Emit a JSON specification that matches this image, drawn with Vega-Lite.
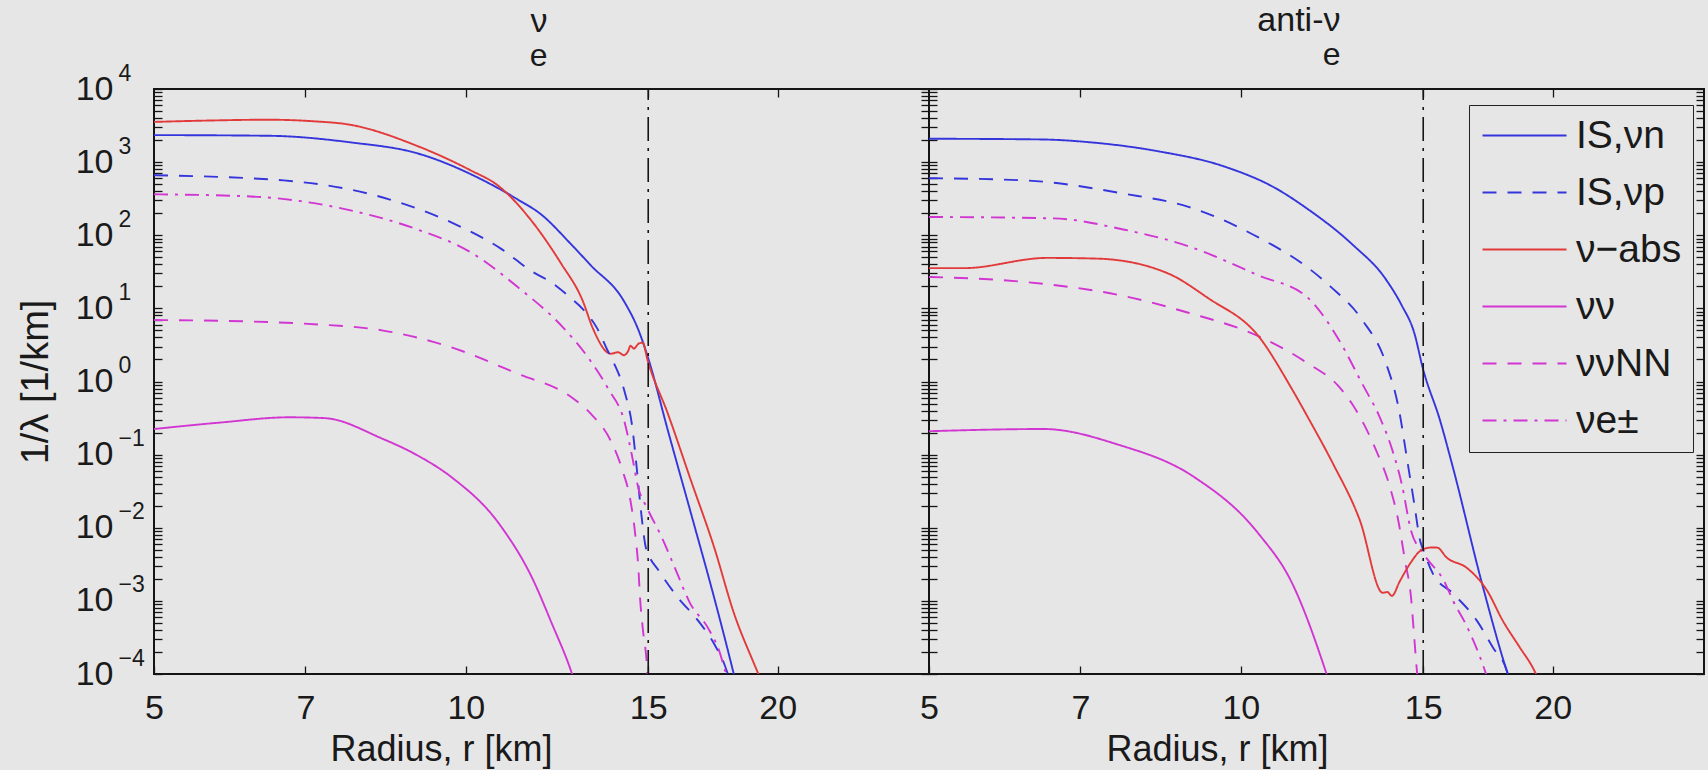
{
  "$schema": "https://vega.github.io/schema/vega-lite/v6.json",
  "autosize": {"type": "none"},
  "padding": {"left": 154, "top": 89, "right": 1554, "bottom": 681},
  "background": "#e6e6e6",
  "config": {
    "font": "Liberation Sans",
    "view": {"stroke": "#151515", "strokeWidth": 2},
    "axis": {
      "grid": false,
      "domain": false,
      "ticks": true,
      "tickSize": -8,
      "tickColor": "#151515",
      "tickWidth": 1.3,
      "labelFont": "Liberation Sans",
      "labelColor": "#1a1a1a",
      "titleFont": "Liberation Sans",
      "titleFontWeight": "normal",
      "titleColor": "#1a1a1a",
      "labelOverlap": false,
      "labelFlush": false
    },
    "title": {"font": "Liberation Sans", "fontWeight": "normal", "color": "#1a1a1a", "subtitleFont": "Liberation Sans", "subtitleColor": "#1a1a1a"}
  },
  "datasets": {
    "curves": [
      {"p": "a", "s": "IS,νn", "r": 5, "v": 2344},
      {"p": "a", "s": "IS,νn", "r": 6.47, "v": 2291},
      {"p": "a", "s": "IS,νn", "r": 7.74, "v": 1862},
      {"p": "a", "s": "IS,νn", "r": 8.98, "v": 1318},
      {"p": "a", "s": "IS,νn", "r": 10.4, "v": 562},
      {"p": "a", "s": "IS,νn", "r": 11.22, "v": 309},
      {"p": "a", "s": "IS,νn", "r": 11.81, "v": 195},
      {"p": "a", "s": "IS,νn", "r": 12.63, "v": 75.9},
      {"p": "a", "s": "IS,νn", "r": 13.2, "v": 38.9},
      {"p": "a", "s": "IS,νn", "r": 14.21, "v": 12.6},
      {"p": "a", "s": "IS,νn", "r": 14.7, "v": 4.79},
      {"p": "a", "s": "IS,νn", "r": 15.02, "v": 1.95},
      {"p": "a", "s": "IS,νn", "r": 15.67, "v": 0.214},
      {"p": "a", "s": "IS,νn", "r": 16.5, "v": 0.0155},
      {"p": "a", "s": "IS,νn", "r": 17.37, "v": 0.0011},
      {"p": "a", "s": "IS,νn", "r": 18.04, "v": 0.000138},
      {"p": "a", "s": "IS,νn", "r": 18.2, "v": 0.000083},

      {"p": "a", "s": "ν−abs", "r": 5, "v": 3548},
      {"p": "a", "s": "ν−abs", "r": 5.7, "v": 3715},
      {"p": "a", "s": "ν−abs", "r": 6.43, "v": 3802},
      {"p": "a", "s": "ν−abs", "r": 7.1, "v": 3631},
      {"p": "a", "s": "ν−abs", "r": 7.74, "v": 3236},
      {"p": "a", "s": "ν−abs", "r": 8.98, "v": 1660},
      {"p": "a", "s": "ν−abs", "r": 10.1, "v": 776},
      {"p": "a", "s": "ν−abs", "r": 10.74, "v": 479},
      {"p": "a", "s": "ν−abs", "r": 11.6, "v": 151},
      {"p": "a", "s": "ν−abs", "r": 12.35, "v": 41.7},
      {"p": "a", "s": "ν−abs", "r": 12.97, "v": 12.6},
      {"p": "a", "s": "ν−abs", "r": 13.26, "v": 5.37},
      {"p": "a", "s": "ν−abs", "r": 13.8, "v": 2.4},
      {"p": "a", "s": "ν−abs", "r": 14.03, "v": 2.51},
      {"p": "a", "s": "ν−abs", "r": 14.21, "v": 2.29},
      {"p": "a", "s": "ν−abs", "r": 14.35, "v": 2.63},
      {"p": "a", "s": "ν−abs", "r": 14.42, "v": 3.09},
      {"p": "a", "s": "ν−abs", "r": 14.53, "v": 2.82},
      {"p": "a", "s": "ν−abs", "r": 14.69, "v": 3.31},
      {"p": "a", "s": "ν−abs", "r": 14.82, "v": 3.39},
      {"p": "a", "s": "ν−abs", "r": 14.98, "v": 1.95},
      {"p": "a", "s": "ν−abs", "r": 15.67, "v": 0.363},
      {"p": "a", "s": "ν−abs", "r": 16.5, "v": 0.0437},
      {"p": "a", "s": "ν−abs", "r": 17.37, "v": 0.00537},
      {"p": "a", "s": "ν−abs", "r": 18.16, "v": 0.000661},
      {"p": "a", "s": "ν−abs", "r": 18.98, "v": 0.000138},
      {"p": "a", "s": "ν−abs", "r": 19.3, "v": 0.000079},

      {"p": "a", "s": "IS,νp", "r": 5, "v": 661},
      {"p": "a", "s": "IS,νp", "r": 6.67, "v": 562},
      {"p": "a", "s": "IS,νp", "r": 8.3, "v": 331},
      {"p": "a", "s": "IS,νp", "r": 9.67, "v": 151},
      {"p": "a", "s": "IS,νp", "r": 10.8, "v": 66.1},
      {"p": "a", "s": "IS,νp", "r": 11.6, "v": 31.6},
      {"p": "a", "s": "IS,νp", "r": 12.08, "v": 22.9},
      {"p": "a", "s": "IS,νp", "r": 12.63, "v": 13.8},
      {"p": "a", "s": "IS,νp", "r": 12.97, "v": 9.77},
      {"p": "a", "s": "IS,νp", "r": 13.4, "v": 5.25},
      {"p": "a", "s": "IS,νp", "r": 13.71, "v": 2.63},
      {"p": "a", "s": "IS,νp", "r": 13.9, "v": 1.78},
      {"p": "a", "s": "IS,νp", "r": 14.24, "v": 0.708},
      {"p": "a", "s": "IS,νp", "r": 14.48, "v": 0.234},
      {"p": "a", "s": "IS,νp", "r": 14.63, "v": 0.0603},
      {"p": "a", "s": "IS,νp", "r": 14.76, "v": 0.017},
      {"p": "a", "s": "IS,νp", "r": 14.92, "v": 0.00537},
      {"p": "a", "s": "IS,νp", "r": 15.0, "v": 0.00437},
      {"p": "a", "s": "IS,νp", "r": 15.36, "v": 0.00257},
      {"p": "a", "s": "IS,νp", "r": 16.03, "v": 0.0011},
      {"p": "a", "s": "IS,νp", "r": 16.76, "v": 0.000537},
      {"p": "a", "s": "IS,νp", "r": 17.37, "v": 0.000257},
      {"p": "a", "s": "IS,νp", "r": 17.76, "v": 0.000138},
      {"p": "a", "s": "IS,νp", "r": 17.95, "v": 0.000089},

      {"p": "a", "s": "νe±", "r": 5, "v": 363},
      {"p": "a", "s": "νe±", "r": 6.2, "v": 339},
      {"p": "a", "s": "νe±", "r": 7.74, "v": 219},
      {"p": "a", "s": "νe±", "r": 8.98, "v": 120},
      {"p": "a", "s": "νe±", "r": 10.1, "v": 58.9},
      {"p": "a", "s": "νe±", "r": 11.2, "v": 20.0},
      {"p": "a", "s": "νe±", "r": 12.43, "v": 5.37},
      {"p": "a", "s": "νe±", "r": 13.12, "v": 2.14},
      {"p": "a", "s": "νe±", "r": 13.71, "v": 0.813},
      {"p": "a", "s": "νe±", "r": 14.24, "v": 0.269},
      {"p": "a", "s": "νe±", "r": 14.48, "v": 0.0912},
      {"p": "a", "s": "νe±", "r": 14.67, "v": 0.0355},
      {"p": "a", "s": "νe±", "r": 14.95, "v": 0.0191},
      {"p": "a", "s": "νe±", "r": 15.47, "v": 0.00724},
      {"p": "a", "s": "νe±", "r": 15.96, "v": 0.00257},
      {"p": "a", "s": "νe±", "r": 16.46, "v": 0.000933},
      {"p": "a", "s": "νe±", "r": 17.13, "v": 0.000427},
      {"p": "a", "s": "νe±", "r": 17.56, "v": 0.000209},
      {"p": "a", "s": "νe±", "r": 17.84, "v": 0.0001},
      {"p": "a", "s": "νe±", "r": 17.95, "v": 0.000079},

      {"p": "a", "s": "ννNN", "r": 5, "v": 6.92},
      {"p": "a", "s": "ννNN", "r": 6.2, "v": 6.61},
      {"p": "a", "s": "ννNN", "r": 7.2, "v": 6.03},
      {"p": "a", "s": "ννNN", "r": 8.3, "v": 5.01},
      {"p": "a", "s": "ννNN", "r": 9.67, "v": 2.95},
      {"p": "a", "s": "ννNN", "r": 11.2, "v": 1.29},
      {"p": "a", "s": "ννNN", "r": 12.63, "v": 0.617},
      {"p": "a", "s": "ννNN", "r": 13.2, "v": 0.363},
      {"p": "a", "s": "ννNN", "r": 13.8, "v": 0.155},
      {"p": "a", "s": "ννNN", "r": 14.17, "v": 0.0603},
      {"p": "a", "s": "ννNN", "r": 14.42, "v": 0.0234},
      {"p": "a", "s": "ννNN", "r": 14.57, "v": 0.00832},
      {"p": "a", "s": "ννNN", "r": 14.67, "v": 0.00302},
      {"p": "a", "s": "ννNN", "r": 14.73, "v": 0.0011},
      {"p": "a", "s": "ννNN", "r": 14.82, "v": 0.000417},
      {"p": "a", "s": "ννNN", "r": 14.95, "v": 0.000141},
      {"p": "a", "s": "ννNN", "r": 15.0, "v": 0.000063},

      {"p": "a", "s": "νν", "r": 5, "v": 0.224},
      {"p": "a", "s": "νν", "r": 5.8, "v": 0.275},
      {"p": "a", "s": "νν", "r": 6.75, "v": 0.324},
      {"p": "a", "s": "νν", "r": 7.3, "v": 0.316},
      {"p": "a", "s": "νν", "r": 8.3, "v": 0.166},
      {"p": "a", "s": "νν", "r": 8.98, "v": 0.0977},
      {"p": "a", "s": "νν", "r": 9.67, "v": 0.0501},
      {"p": "a", "s": "νν", "r": 10.8, "v": 0.0107},
      {"p": "a", "s": "νν", "r": 11.6, "v": 0.002},
      {"p": "a", "s": "νν", "r": 12.1, "v": 0.0005},
      {"p": "a", "s": "νν", "r": 12.63, "v": 0.000112},
      {"p": "a", "s": "νν", "r": 12.7, "v": 0.000089},

      {"p": "b", "s": "IS,νn", "r": 5, "v": 2089},
      {"p": "b", "s": "IS,νn", "r": 6.42, "v": 2042},
      {"p": "b", "s": "IS,νn", "r": 7.17, "v": 1862},
      {"p": "b", "s": "IS,νn", "r": 8.31, "v": 1413},
      {"p": "b", "s": "IS,νn", "r": 9.64, "v": 871},
      {"p": "b", "s": "IS,νn", "r": 10.78, "v": 447},
      {"p": "b", "s": "IS,νn", "r": 11.6, "v": 229},
      {"p": "b", "s": "IS,νn", "r": 12.8, "v": 75.9},
      {"p": "b", "s": "IS,νn", "r": 13.8, "v": 25.1},
      {"p": "b", "s": "IS,νn", "r": 14.3, "v": 11.0},
      {"p": "b", "s": "IS,νn", "r": 14.7, "v": 4.68},
      {"p": "b", "s": "IS,νn", "r": 15.0, "v": 1.45},
      {"p": "b", "s": "IS,νn", "r": 15.57, "v": 0.295},
      {"p": "b", "s": "IS,νn", "r": 16.0, "v": 0.0724},
      {"p": "b", "s": "IS,νn", "r": 17.1, "v": 0.0017},
      {"p": "b", "s": "IS,νn", "r": 18.1, "v": 0.0001},
      {"p": "b", "s": "IS,νn", "r": 18.2, "v": 0.000079},

      {"p": "b", "s": "IS,νp", "r": 5, "v": 603},
      {"p": "b", "s": "IS,νp", "r": 6.2, "v": 562},
      {"p": "b", "s": "IS,νp", "r": 7.7, "v": 372},
      {"p": "b", "s": "IS,νp", "r": 8.9, "v": 245},
      {"p": "b", "s": "IS,νp", "r": 10.4, "v": 93.3},
      {"p": "b", "s": "IS,νp", "r": 11.6, "v": 36.3},
      {"p": "b", "s": "IS,νp", "r": 12.2, "v": 20.0},
      {"p": "b", "s": "IS,νp", "r": 13.1, "v": 6.92},
      {"p": "b", "s": "IS,νp", "r": 13.8, "v": 1.82},
      {"p": "b", "s": "IS,νp", "r": 14.2, "v": 0.437},
      {"p": "b", "s": "IS,νp", "r": 14.5, "v": 0.0724},
      {"p": "b", "s": "IS,νp", "r": 14.7, "v": 0.0219},
      {"p": "b", "s": "IS,νp", "r": 14.9, "v": 0.00661},
      {"p": "b", "s": "IS,νp", "r": 15.0, "v": 0.00501},
      {"p": "b", "s": "IS,νp", "r": 15.33, "v": 0.00234},
      {"p": "b", "s": "IS,νp", "r": 16.03, "v": 0.00126},
      {"p": "b", "s": "IS,νp", "r": 16.9, "v": 0.000537},
      {"p": "b", "s": "IS,νp", "r": 17.52, "v": 0.000229},
      {"p": "b", "s": "IS,νp", "r": 18.07, "v": 0.00011},
      {"p": "b", "s": "IS,νp", "r": 18.15, "v": 0.000089},

      {"p": "b", "s": "νe±", "r": 5, "v": 178},
      {"p": "b", "s": "νe±", "r": 6.6, "v": 170},
      {"p": "b", "s": "νe±", "r": 7.7, "v": 120},
      {"p": "b", "s": "νe±", "r": 8.9, "v": 70.8},
      {"p": "b", "s": "νe±", "r": 10.4, "v": 28.2},
      {"p": "b", "s": "νe±", "r": 11.6, "v": 14.1},
      {"p": "b", "s": "νe±", "r": 12.4, "v": 3.98},
      {"p": "b", "s": "νe±", "r": 13.12, "v": 0.891},
      {"p": "b", "s": "νe±", "r": 13.6, "v": 0.339},
      {"p": "b", "s": "νe±", "r": 14.0, "v": 0.117},
      {"p": "b", "s": "νe±", "r": 14.3, "v": 0.0398},
      {"p": "b", "s": "νe±", "r": 14.6, "v": 0.00912},
      {"p": "b", "s": "νe±", "r": 15.0, "v": 0.00447},
      {"p": "b", "s": "νe±", "r": 15.74, "v": 0.00178},
      {"p": "b", "s": "νe±", "r": 16.03, "v": 0.001},
      {"p": "b", "s": "νe±", "r": 16.53, "v": 0.000447},
      {"p": "b", "s": "νe±", "r": 17.0, "v": 0.000178},
      {"p": "b", "s": "νe±", "r": 17.3, "v": 0.000089},

      {"p": "b", "s": "ννNN", "r": 5, "v": 26.9},
      {"p": "b", "s": "ννNN", "r": 6.2, "v": 22.9},
      {"p": "b", "s": "ννNN", "r": 7.7, "v": 14.8},
      {"p": "b", "s": "ννNN", "r": 8.9, "v": 8.71},
      {"p": "b", "s": "ννNN", "r": 10.4, "v": 4.17},
      {"p": "b", "s": "ννNN", "r": 11.6, "v": 1.78},
      {"p": "b", "s": "ννNN", "r": 12.4, "v": 0.89},
      {"p": "b", "s": "ννNN", "r": 12.8, "v": 0.5},
      {"p": "b", "s": "ννNN", "r": 13.5, "v": 0.117},
      {"p": "b", "s": "ννNN", "r": 13.9, "v": 0.0398},
      {"p": "b", "s": "ννNN", "r": 14.2, "v": 0.012},
      {"p": "b", "s": "ννNN", "r": 14.4, "v": 0.00363},
      {"p": "b", "s": "ννNN", "r": 14.6, "v": 0.0011},
      {"p": "b", "s": "ννNN", "r": 14.7, "v": 0.000331},
      {"p": "b", "s": "ννNN", "r": 14.8, "v": 0.0001},
      {"p": "b", "s": "ννNN", "r": 14.85, "v": 0.000063},

      {"p": "b", "s": "νν", "r": 5, "v": 0.209},
      {"p": "b", "s": "νν", "r": 6.45, "v": 0.224},
      {"p": "b", "s": "νν", "r": 7.6, "v": 0.138},
      {"p": "b", "s": "νν", "r": 9.0, "v": 0.0501},
      {"p": "b", "s": "νν", "r": 10.4, "v": 0.00832},
      {"p": "b", "s": "νν", "r": 11.2, "v": 0.00178},
      {"p": "b", "s": "νν", "r": 12.1, "v": 0.0001},
      {"p": "b", "s": "νν", "r": 12.2, "v": 0.00007},

      {"p": "b", "s": "ν−abs", "r": 5, "v": 35.5},
      {"p": "b", "s": "ν−abs", "r": 5.4, "v": 35.5},
      {"p": "b", "s": "ν−abs", "r": 6.5, "v": 49.0},
      {"p": "b", "s": "ν−abs", "r": 7.27, "v": 47.9},
      {"p": "b", "s": "ν−abs", "r": 8.5, "v": 30.2},
      {"p": "b", "s": "ν−abs", "r": 9.3, "v": 13.8},
      {"p": "b", "s": "ν−abs", "r": 10.4, "v": 4.17},
      {"p": "b", "s": "ν−abs", "r": 11.2, "v": 0.794},
      {"p": "b", "s": "ν−abs", "r": 11.65, "v": 0.295},
      {"p": "b", "s": "ν−abs", "r": 12.27, "v": 0.0759},
      {"p": "b", "s": "ν−abs", "r": 13.03, "v": 0.0126},
      {"p": "b", "s": "ν−abs", "r": 13.71, "v": 0.00129},
      {"p": "b", "s": "ν−abs", "r": 13.85, "v": 0.00132},
      {"p": "b", "s": "ν−abs", "r": 13.99, "v": 0.00117},
      {"p": "b", "s": "ν−abs", "r": 14.24, "v": 0.00186},
      {"p": "b", "s": "ν−abs", "r": 14.57, "v": 0.00324},
      {"p": "b", "s": "ν−abs", "r": 14.89, "v": 0.00479},
      {"p": "b", "s": "ν−abs", "r": 15.1, "v": 0.00525},
      {"p": "b", "s": "ν−abs", "r": 15.29, "v": 0.00537},
      {"p": "b", "s": "ν−abs", "r": 15.46, "v": 0.00537},
      {"p": "b", "s": "ν−abs", "r": 15.81, "v": 0.00389},
      {"p": "b", "s": "ν−abs", "r": 16.53, "v": 0.00282},
      {"p": "b", "s": "ν−abs", "r": 17.29, "v": 0.00138},
      {"p": "b", "s": "ν−abs", "r": 17.9, "v": 0.000537},
      {"p": "b", "s": "ν−abs", "r": 18.6, "v": 0.000229},
      {"p": "b", "s": "ν−abs", "r": 19.15, "v": 0.00012},
      {"p": "b", "s": "ν−abs", "r": 19.35, "v": 0.000089}
    ],
    "sphere": [
      {"r": 15, "lo": 0.0001, "hi": 10000}
    ]
  },
  "bounds": "flush",
  "spacing": 0,
  "hconcat": [
    {
      "width": 775,
      "height": 585,
      "title": {"text": "ν", "subtitle": "e", "fontSize": 34, "subtitleFontSize": 32, "subtitlePadding": 0, "anchor": "middle", "align": "right", "dx": 6, "baseline": "alphabetic", "offset": 15, "dy": 52},
      "resolve": {"axis": {"x": "independent", "y": "independent"}},
      "layer": [
        {
          "data": {"name": "curves"},
          "transform": [{"filter": "datum.p == 'a'"}],
          "mark": {"type": "line", "strokeWidth": 1.9, "clip": true, "interpolate": "monotone"},
          "encoding": {
            "x": {
              "field": "r", "type": "quantitative",
              "scale": {"type": "log", "domain": [5, 28]},
              "axis": {"orient": "bottom", "values": [5, 7, 10, 15, 20], "labelFontSize": 34, "labelPadding": 25, "title": "Radius, r [km]", "titleFontSize": 36, "titleX": 287, "titleY": 86, "titleBaseline": "alphabetic"}
            },
            "y": {
              "field": "v", "type": "quantitative",
              "scale": {"type": "log", "domain": [0.0001, 10000]},
              "axis": {
                "orient": "left",
                "values": [0.0001, 0.0002, 0.0003, 0.0004, 0.0005, 0.0006, 0.0007, 0.0008, 0.0009, 0.001, 0.002, 0.003, 0.004, 0.005, 0.006, 0.007, 0.008, 0.009, 0.01, 0.02, 0.03, 0.04, 0.05, 0.06, 0.07, 0.08, 0.09, 0.1, 0.2, 0.3, 0.4, 0.5, 0.6, 0.7, 0.8, 0.9, 1, 2, 3, 4, 5, 6, 7, 8, 9, 10, 20, 30, 40, 50, 60, 70, 80, 90, 100, 200, 300, 400, 500, 600, 700, 800, 900, 1000, 2000, 3000, 4000, 5000, 6000, 7000, 8000, 9000, 10000],
                "labelExpr": "(datum.value == 10000 || datum.value == 1000 || datum.value == 100 || datum.value == 10 || datum.value == 1 || datum.value == 0.1 || datum.value == 0.01 || datum.value == 0.001 || datum.value == 0.0001) ? '10' : ''",
                "labelFontSize": 34,
                "labelPadding": 49,
                "title": "1/λ [1/km]",
                "titleFontSize": 38,
                "titleX": -107,
                "titleBaseline": "alphabetic"
              }
            },
            "color": {
              "field": "s", "type": "nominal",
              "scale": {"domain": ["IS,νn", "IS,νp", "ν−abs", "νν", "ννNN", "νe±"], "range": ["#3535dc", "#3535dc", "#e23a3a", "#d236d2", "#d236d2", "#d236d2"]},
              "legend": {"title": null, "orient": "none", "legendX": 1315, "legendY": 16, "symbolType": "M-3,0H3", "symbolSize": 784, "symbolStrokeWidth": 1.9, "symbolOffset": 25, "labelOffset": 32, "labelFontSize": 39, "labelFont": "Liberation Sans", "labelColor": "#1a1a1a", "labelLimit": 300, "padding": 11, "rowPadding": 17, "strokeColor": "#222222", "fillColor": "#e6e6e6"}
            },
            "strokeDash": {
              "field": "s", "type": "nominal",
              "scale": {"domain": ["IS,νn", "IS,νp", "ν−abs", "νν", "ννNN", "νe±"], "range": [[1, 0], [14, 11], [1, 0], [1, 0], [14, 11], [14, 7, 3, 7]]},
              "legend": {"title": null, "orient": "none", "legendX": 1315, "legendY": 16, "symbolType": "M-3,0H3", "symbolSize": 784, "symbolStrokeWidth": 1.9, "symbolOffset": 25, "labelOffset": 32, "labelFontSize": 39, "labelFont": "Liberation Sans", "labelColor": "#1a1a1a", "labelLimit": 300, "padding": 11, "rowPadding": 17, "strokeColor": "#222222", "fillColor": "#e6e6e6"}
            }
          }
        },
        {
          "data": {"name": "sphere"},
          "mark": {"type": "rule", "color": "#151515", "strokeWidth": 1.6, "strokeDash": [24, 7, 3, 7]},
          "encoding": {
            "x": {"field": "r", "type": "quantitative", "scale": {"type": "log", "domain": [5, 28]}, "axis": {"orient": "top", "values": [7, 10, 15, 20], "labels": false, "title": null}},
            "y": {
              "field": "lo", "type": "quantitative", "scale": {"type": "log", "domain": [0.0001, 10000]},
              "axis": {"orient": "right", "labels": false, "title": null, "values": [0.0001, 0.0002, 0.0003, 0.0004, 0.0005, 0.0006, 0.0007, 0.0008, 0.0009, 0.001, 0.002, 0.003, 0.004, 0.005, 0.006, 0.007, 0.008, 0.009, 0.01, 0.02, 0.03, 0.04, 0.05, 0.06, 0.07, 0.08, 0.09, 0.1, 0.2, 0.3, 0.4, 0.5, 0.6, 0.7, 0.8, 0.9, 1, 2, 3, 4, 5, 6, 7, 8, 9, 10, 20, 30, 40, 50, 60, 70, 80, 90, 100, 200, 300, 400, 500, 600, 700, 800, 900, 1000, 2000, 3000, 4000, 5000, 6000, 7000, 8000, 9000, 10000]}
            },
            "y2": {"field": "hi"}
          }
        },
        {
          "data": {"name": "sphere"},
          "mark": {"type": "rule", "opacity": 0},
          "encoding": {
            "x": {"field": "r", "type": "quantitative", "scale": {"type": "log", "domain": [5, 28]}, "axis": null},
            "y": {
              "field": "lo", "type": "quantitative", "scale": {"type": "log", "domain": [0.0001, 10000]},
              "axis": {
                "orient": "left",
                "values": [0.0001, 0.001, 0.01, 0.1, 1, 10, 100, 1000, 10000],
                "ticks": false,
                "labelExpr": "datum.value == 10000 ? '4' : datum.value == 1000 ? '3' : datum.value == 100 ? '2' : datum.value == 10 ? '1' : datum.value == 1 ? '0' : datum.value == 0.1 ? '−1' : datum.value == 0.01 ? '−2' : datum.value == 0.001 ? '−3' : '−4'",
                "labelAlign": "left",
                "labelPadding": 36,
                "labelOffset": -16,
                "labelFontSize": 23,
                "title": null
              }
            },
            "y2": {"field": "hi"}
          }
        }
      ]
    },
    {
      "width": 775,
      "height": 585,
      "title": {"text": "anti-ν", "subtitle": "e", "fontSize": 34, "subtitleFontSize": 32, "subtitlePadding": 0, "anchor": "middle", "align": "right", "dx": 24, "baseline": "alphabetic", "offset": 15, "dy": 25},
      "resolve": {"axis": {"x": "independent", "y": "independent"}},
      "layer": [
        {
          "data": {"name": "curves"},
          "transform": [{"filter": "datum.p == 'b'"}],
          "mark": {"type": "line", "strokeWidth": 1.9, "clip": true, "interpolate": "monotone"},
          "encoding": {
            "x": {
              "field": "r", "type": "quantitative",
              "scale": {"type": "log", "domain": [5, 28]},
              "axis": {"orient": "bottom", "values": [5, 7, 10, 15, 20], "labelFontSize": 34, "labelPadding": 25, "title": "Radius, r [km]", "titleFontSize": 36, "titleX": 288, "titleY": 86, "titleBaseline": "alphabetic"}
            },
            "y": {
              "field": "v", "type": "quantitative",
              "scale": {"type": "log", "domain": [0.0001, 10000]},
              "axis": {"orient": "left", "labels": false, "title": null, "values": [0.0001, 0.0002, 0.0003, 0.0004, 0.0005, 0.0006, 0.0007, 0.0008, 0.0009, 0.001, 0.002, 0.003, 0.004, 0.005, 0.006, 0.007, 0.008, 0.009, 0.01, 0.02, 0.03, 0.04, 0.05, 0.06, 0.07, 0.08, 0.09, 0.1, 0.2, 0.3, 0.4, 0.5, 0.6, 0.7, 0.8, 0.9, 1, 2, 3, 4, 5, 6, 7, 8, 9, 10, 20, 30, 40, 50, 60, 70, 80, 90, 100, 200, 300, 400, 500, 600, 700, 800, 900, 1000, 2000, 3000, 4000, 5000, 6000, 7000, 8000, 9000, 10000]}
            },
            "color": {
              "field": "s", "type": "nominal",
              "scale": {"domain": ["IS,νn", "IS,νp", "ν−abs", "νν", "ννNN", "νe±"], "range": ["#3535dc", "#3535dc", "#e23a3a", "#d236d2", "#d236d2", "#d236d2"]},
              "legend": {"title": null, "orient": "none", "legendX": 1315, "legendY": 16, "symbolType": "M-3,0H3", "symbolSize": 784, "symbolStrokeWidth": 1.9, "symbolOffset": 25, "labelOffset": 32, "labelFontSize": 39, "labelFont": "Liberation Sans", "labelColor": "#1a1a1a", "labelLimit": 300, "padding": 11, "rowPadding": 17, "strokeColor": "#222222", "fillColor": "#e6e6e6"}
            },
            "strokeDash": {
              "field": "s", "type": "nominal",
              "scale": {"domain": ["IS,νn", "IS,νp", "ν−abs", "νν", "ννNN", "νe±"], "range": [[1, 0], [14, 11], [1, 0], [1, 0], [14, 11], [14, 7, 3, 7]]},
              "legend": {"title": null, "orient": "none", "legendX": 1315, "legendY": 16, "symbolType": "M-3,0H3", "symbolSize": 784, "symbolStrokeWidth": 1.9, "symbolOffset": 25, "labelOffset": 32, "labelFontSize": 39, "labelFont": "Liberation Sans", "labelColor": "#1a1a1a", "labelLimit": 300, "padding": 11, "rowPadding": 17, "strokeColor": "#222222", "fillColor": "#e6e6e6"}
            }
          }
        },
        {
          "data": {"name": "sphere"},
          "mark": {"type": "rule", "color": "#151515", "strokeWidth": 1.6, "strokeDash": [24, 7, 3, 7]},
          "encoding": {
            "x": {"field": "r", "type": "quantitative", "scale": {"type": "log", "domain": [5, 28]}, "axis": {"orient": "top", "values": [7, 10, 15, 20], "labels": false, "title": null}},
            "y": {
              "field": "lo", "type": "quantitative", "scale": {"type": "log", "domain": [0.0001, 10000]},
              "axis": {"orient": "right", "labels": false, "title": null, "values": [0.0001, 0.0002, 0.0003, 0.0004, 0.0005, 0.0006, 0.0007, 0.0008, 0.0009, 0.001, 0.002, 0.003, 0.004, 0.005, 0.006, 0.007, 0.008, 0.009, 0.01, 0.02, 0.03, 0.04, 0.05, 0.06, 0.07, 0.08, 0.09, 0.1, 0.2, 0.3, 0.4, 0.5, 0.6, 0.7, 0.8, 0.9, 1, 2, 3, 4, 5, 6, 7, 8, 9, 10, 20, 30, 40, 50, 60, 70, 80, 90, 100, 200, 300, 400, 500, 600, 700, 800, 900, 1000, 2000, 3000, 4000, 5000, 6000, 7000, 8000, 9000, 10000]}
            },
            "y2": {"field": "hi"}
          }
        }
      ]
    }
  ]
}
